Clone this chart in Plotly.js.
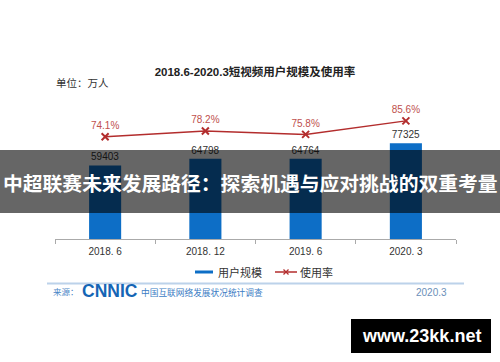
<!DOCTYPE html>
<html>
<head>
<meta charset="utf-8">
<script src="https://cdn.plot.ly/plotly-3.0.1.min.js"></script>
<style>html,body{margin:0;padding:0;background:#fff;}#chart{width:500px;height:362px;}</style>
</head>
<body>
<div id="chart"></div>
<script>
// ---- data ----
var categories = ["2018. 6", "2018. 12", "2019. 6", "2020. 3"];
var userScale = [59403, 64798, 64764, 77325];
var usageRate = [74.1, 78.2, 75.8, 85.6];
var userScaleLabels = ["59403", "64798", "64764", "77325"];
var usageRateLabels = ["74.1%", "78.2%", "75.8%", "85.6%"];
var seriesNames = ["用户规模", "使用率"];

// ---- layout helpers (pixel -> paper) ----
var L = 55, R = 456, T = 101, B = 239;
function px(x){ return (x - L) / (R - L); }
function py(y){ return (B - y) / (B - T); }

var BLUE = "#0d6ec6", RED = "#b32d2d", LBL_RED = "#c0504d";
var CJK = "Liberation Sans, Noto Sans CJK SC, sans-serif";

var traces = [
  {
    type: "bar", x: categories, y: userScale, name: seriesNames[0],
    marker: {color: BLUE}, width: 0.32,
    text: userScaleLabels, textposition: "outside", cliponaxis: false,
    textfont: {size: 10, color: "#333"}, hoverinfo: "x+y", showlegend: false
  },
  {
    type: "scatter", mode: "lines+markers+text", x: categories, y: usageRate, yaxis: "y2",
    name: seriesNames[1], line: {color: RED, width: 1.5},
    marker: {symbol: "x-thin", size: 7, line: {color: RED, width: 2}, color: RED},
    text: usageRateLabels, textposition: "top center", cliponaxis: false,
    textfont: {size: 10, color: LBL_RED}, showlegend: false
  }
];

function ann(text, x, y, opts){
  var a = {text: text, x: px(x), y: py(y), xref: "paper", yref: "paper",
    showarrow: false, xanchor: "left", yanchor: "middle", font: {size: 10, color: "#333", family: CJK}};
  for (var k in opts) a[k] = opts[k];
  return a;
}

var layout = {
  width: 500, height: 362,
  margin: {l: L, r: 500 - R, t: T, b: 362 - B},
  paper_bgcolor: "#fff", plot_bgcolor: "#fff",
  font: {family: CJK, color: "#333"},
  title: {text: "<b>2018.6-2020.3短视频用户规模及使用率</b>", x: 255/500, xanchor: "center",
    y: 1 - 71.5/362, yanchor: "middle", font: {size: 11.5, color: "#222", family: CJK}},
  xaxis: {type: "category", range: [-0.5, 3.5], showline: true, linecolor: "#aaa", linewidth: 1,
    ticks: "outside", tickson: "boundaries", ticklen: 4, tickcolor: "#aaa", ticklabelstandoff: 3,
    tickfont: {size: 10, color: "#333"}, showgrid: false, zeroline: false, fixedrange: true},
  yaxis: {range: [0, 111400], visible: false, showgrid: false, zeroline: false},
  yaxis2: {range: [0, 100], overlaying: "y", side: "right", visible: false, showgrid: false, zeroline: false},
  bargap: 0.68,
  showlegend: false,
  shapes: [
    // dark banner
    {type: "rect", xref: "paper", yref: "paper", x0: px(0), x1: px(500), y0: py(150), y1: py(213),
      fillcolor: "rgba(0,0,0,0.6)", line: {width: 0}, layer: "above"},
    // legend: blue line
    {type: "line", xref: "paper", yref: "paper", x0: px(195), x1: px(213), y0: py(272), y1: py(272),
      line: {color: BLUE, width: 3}},
    // legend: red line + x marker
    {type: "line", xref: "paper", yref: "paper", x0: px(275), x1: px(297), y0: py(272), y1: py(272),
      line: {color: RED, width: 1.5}},
    {type: "line", xref: "paper", yref: "paper", x0: px(283.5), x1: px(288.5), y0: py(269.5), y1: py(274.5),
      line: {color: RED, width: 1.3}},
    {type: "line", xref: "paper", yref: "paper", x0: px(283.5), x1: px(288.5), y0: py(274.5), y1: py(269.5),
      line: {color: RED, width: 1.3}},
    // footer line
    {type: "line", xref: "paper", yref: "paper", x0: px(47), x1: px(464), y0: py(283.5), y1: py(283.5),
      line: {color: "#bcd2ea", width: 2}},
    // watermark box
    {type: "rect", xref: "paper", yref: "paper", x0: px(351), x1: px(491), y0: py(319), y1: py(353),
      fillcolor: "#000", line: {width: 0}, layer: "above"}
  ],
  annotations: [
    ann("单位：万人", 54, 83, {font: {size: 10.5, color: "#333", family: CJK}}),
    ann("<b>中超联赛未来发展路径：探索机遇与应对挑战的双重考量</b>", 250, 182,
      {xanchor: "center", font: {size: 19.8, color: "#fff", family: "Noto Sans CJK SC"}}),
    ann(seriesNames[0], 216, 272, {font: {size: 11, color: "#333", family: CJK}}),
    ann(seriesNames[1], 298, 272, {font: {size: 11, color: "#333", family: CJK}}),
    ann("来源：", 51, 292, {font: {size: 8.5, color: "#4a86c6", family: CJK}}),
    ann("<b>CNNIC</b>", 80, 291, {font: {size: 17.5, color: "#1565b5", family: "Liberation Sans, sans-serif"}}),
    ann("中国互联网络发展状况统计调查", 139, 292, {font: {size: 8.7, color: "#3b7cc4", family: CJK}}),
    ann("2020.3", 449, 292, {xanchor: "right", font: {size: 10, color: "#6b8fb8", family: CJK}}),
    ann("<b>www.23kk.net</b>", 421, 336, {xanchor: "center", font: {size: 18, color: "#fff", family: "Liberation Sans, sans-serif"}})
  ]
};

Plotly.newPlot("chart", traces, layout, {displayModeBar: false, staticPlot: true});
</script>
</body>
</html>
